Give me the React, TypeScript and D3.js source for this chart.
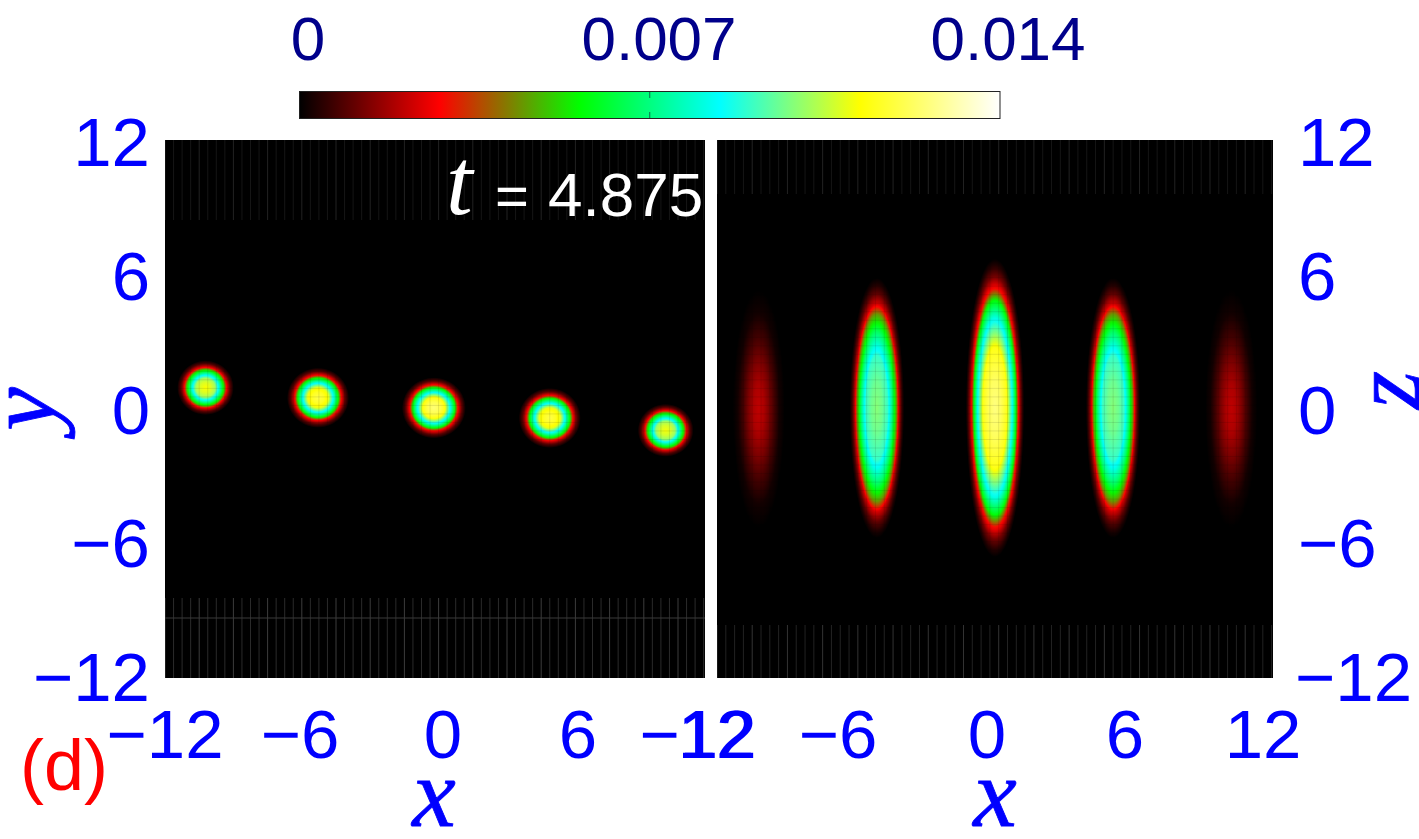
import React from "react";
import * as d3 from "d3";

// --- values ---
const cbTicks = [0, 0.007, 0.014];
const cbLabels = ["0", "0.007", "0.014"];
const colorKnots = ["#000000", "#ff0000", "#00ff00", "#00ffff", "#ffff00", "#ffffff"];
const axisTicks = [-12, -6, 0, 6, 12];

// blobs in the x-y panel
const xyX = [-10.2, -5.2, -0.05, 5.1, 10.25];
const xyY = [0.95, 0.5, 0.05, -0.4, -0.95];
const xyPeak = [0.0112, 0.012, 0.0125, 0.012, 0.0111];
const xyRx = [1.26, 1.38, 1.42, 1.38, 1.24];
const xyRy = [1.22, 1.34, 1.36, 1.34, 1.18];

// blobs in the x-z panel
const xzX = [-10.2, -5.1, 0, 5.1, 10.2];
const xzZ = [0, 0.05, 0.05, 0.05, 0];
const xzPeak = [0.0021, 0.0099, 0.0126, 0.0099, 0.0021];
const xzRx = [1.12, 1.18, 1.26, 1.18, 1.12];
const xzRy = [5.3, 5.8, 6.65, 5.8, 5.3];
const xzSoft = [true, false, false, false, true];

// radial profiles of the blobs: fraction of radius / fraction of the peak
const xyProfileR = [0, 0.19, 0.34, 0.5, 0.66, 0.75, 0.875, 1];
const xyProfileV = [1, 0.966, 0.91, 0.68, 0.45, 0.23, 0.08, 0];
const xzProfileR = [0, 0.2, 0.4, 0.58, 0.72, 0.8, 0.88, 0.95, 1];
const xzProfileV = [1, 0.97, 0.91, 0.68, 0.45, 0.23, 0.1, 0.03, 0];
const softProfileR = [0, 0.2, 0.4, 0.6, 0.8, 1];
const softProfileV = [1, 0.9, 0.65, 0.35, 0.1, 0];

// faint grid of the plotted mesh
const gridStep = 0.38;

const W = 1419, H = 839;
const top = 140, bottom = 678;
const fontSans = "'Liberation Sans', Arial, sans-serif";
const fontSerif = "'Liberation Serif', 'Times New Roman', serif";
const BLUE = "#0000ff";
const NAVY = "#00008b";
const TICK = 69;

const color = d3.scaleLinear<string>()
  .domain(colorKnots.map((_, i) => (i * 0.014) / (colorKnots.length - 1)))
  .range(colorKnots)
  .interpolate(d3.interpolateRgb);

const radialSteps = d3.range(0, 1.0001, 0.02);
const xyProfile = d3.scaleLinear().domain(xyProfileR).range(xyProfileV);
const xzProfile = d3.scaleLinear().domain(xzProfileR).range(xzProfileV);
const softProfile = d3.scaleLinear().domain(softProfileR).range(softProfileV);

function Panel({ id, x0, x1, bands, blobX, blobY, peak, rx, ry, hLine, profiles }: any) {
  const x = d3.scaleLinear().domain([-12, 12]).range([x0, x1]);
  const y = d3.scaleLinear().domain([-12, 12]).range([bottom, top]);
  const mesh = d3.range(-12, 12, gridStep);
  const sx = (x1 - x0) / 24, sy = (bottom - top) / 24;
  return (
    <g>
      <defs>
        {blobX.map((_: number, i: number) => (
          <radialGradient key={i} id={`${id}-${i}`}>
            {radialSteps.map((r) => (
              <stop key={r} offset={r} stopColor={color(peak[i] * (profiles[i](r) as number))} />
            ))}
          </radialGradient>
        ))}
        <clipPath id={`${id}-clip`}>
          <rect x={x0} y={top} width={x1 - x0} height={bottom - top} />
        </clipPath>
      </defs>
      <rect x={x0} y={top} width={x1 - x0} height={bottom - top} fill="#000" />
      <g clipPath={`url(#${id}-clip)`}>
        {blobX.map((v: number, i: number) => (
          <ellipse key={i} cx={x(v)} cy={y(blobY[i])} rx={rx[i] * sx} ry={ry[i] * sy} fill={`url(#${id}-${i})`} />
        ))}
        {mesh.map((m) => (
          <line key={"mv" + m} x1={x(m)} x2={x(m)} y1={top} y2={bottom} stroke="#000" strokeOpacity={0.1} />
        ))}
        {mesh.map((m) => (
          <line key={"mh" + m} x1={x0} x2={x1} y1={y(m)} y2={y(m)} stroke="#000" strokeOpacity={0.1} />
        ))}
        {bands.map((b: any, bi: number) =>
          mesh.map((m, k) => (
            <line key={bi + "-" + k} x1={x(m)} x2={x(m)} y1={b[0]} y2={b[1]}
              stroke={k % 4 === 0 ? b[3] : b[2]} strokeWidth={1} />
          ))
        )}
        <line x1={x0} x2={x1} y1={hLine} y2={hLine} stroke="#3a3a3a" strokeWidth={1} />
      </g>
    </g>
  );
}

export default function App() {
  const cbx = d3.scaleLinear().domain([0, 0.014]).range([299.5, 1000]);
  const yLab = d3.scaleLinear().domain([-12, 12]).range([678, 143]);
  const xLabL = d3.scaleLinear().domain(axisTicks).range([165, 300, 443, 578, 716]);
  const xLabR = d3.scaleLinear().domain(axisTicks).range([698, 838, 987, 1125, 1263]);
  const fmt = (t: number) => (t < 0 ? "\u2212" + -t : String(t));
  const gradStops = d3.range(0, 1.0001, 0.02);
  const nameProps = { fontFamily: fontSerif, fontStyle: "italic", fontSize: 98, fill: BLUE, stroke: BLUE, strokeWidth: 0.8 };
  return (
    <svg width={W} height={H} viewBox={`0 0 ${W} ${H}`}
      style={{ position: "absolute", left: 0, top: 0, display: "block", background: "#fff" }}>
      <defs>
        <linearGradient id="cb">
          {gradStops.map((g) => <stop key={g} offset={g} stopColor={color(g * 0.014)} />)}
        </linearGradient>
      </defs>

      {/* colour bar */}
      {cbTicks.map((t, i) => (
        <text key={t} x={i === 0 ? 308 : i === 1 ? 659 : 1008} y={60} textAnchor="middle"
          fontFamily={fontSans} fontSize={62} fill={NAVY}>{cbLabels[i]}</text>
      ))}
      <rect x={cbx(0)} y={91.5} width={cbx(0.014) - cbx(0)} height={27} fill="url(#cb)" stroke="#222" strokeWidth={1} />
      <line x1={cbx(0.007)} x2={cbx(0.007)} y1={92} y2={98} stroke="#0a6b4a" />
      <line x1={cbx(0.007)} x2={cbx(0.007)} y1={112} y2={118} stroke="#0a6b4a" />

      <Panel id="xy" x0={165} x1={705} blobX={xyX} blobY={xyY} peak={xyPeak} rx={xyRx} ry={xyRy} hLine={618}
        profiles={xyX.map(() => xyProfile)}
        bands={[[140, 220, "#151515", "#222222"], [598, 678, "#2a2a2a", "#3c3c3c"]]} />
      <Panel id="xz" x0={717} x1={1273} blobX={xzX} blobY={xzZ} peak={xzPeak} rx={xzRx} ry={xzRy} hLine={-5}
        profiles={xzSoft.map((s) => (s ? softProfile : xzProfile))}
        bands={[[140, 194, "#151515", "#222222"], [625, 678, "#222222", "#333333"]]} />

      {/* y tick labels */}
      {axisTicks.map((t) => (
        <text key={"yl" + t} x={150} y={yLab(t) + 23} textAnchor="end" fontFamily={fontSans} fontSize={TICK} fill={BLUE}>{fmt(t)}</text>
      ))}
      {axisTicks.map((t) => (
        <text key={"yr" + t} x={t === -12 ? 1295 : 1298} y={yLab(t) + 23} textAnchor="start" fontFamily={fontSans} fontSize={TICK} fill={BLUE}>{fmt(t)}</text>
      ))}
      {/* x tick labels */}
      {axisTicks.map((t) => (
        <text key={"xl" + t} x={xLabL(t)} y={758} textAnchor="middle" fontFamily={fontSans} fontSize={TICK} fill={BLUE}>{fmt(t)}</text>
      ))}
      {axisTicks.map((t) => (
        <text key={"xr" + t} x={xLabR(t)} y={758} textAnchor="middle" fontFamily={fontSans} fontSize={TICK} fill={BLUE}>{fmt(t)}</text>
      ))}

      {/* axis names */}
      <text x={434} y={826} textAnchor="middle" {...nameProps}>x</text>
      <text x={995} y={826} textAnchor="middle" {...nameProps}>x</text>
      <text transform="translate(54,409) rotate(-90)" textAnchor="middle" {...nameProps}>y</text>
      <text transform="translate(1419,390) rotate(-90)" textAnchor="middle" {...nameProps}>z</text>

      {/* annotations */}
      <text x={446} y={214} fontFamily={fontSerif} fontStyle="italic" fontSize={96} fill="#fff">t</text>
      <text x={495} y={216} fontFamily={fontSans} fontSize={58} fill="#fff">=</text>
      <text x={548} y={216} fontFamily={fontSans} fontSize={62} fill="#fff">4.875</text>
      <text x={20} y={790} fontFamily={fontSans} fontSize={72} fill="#ff0000">(d)</text>
    </svg>
  );
}
